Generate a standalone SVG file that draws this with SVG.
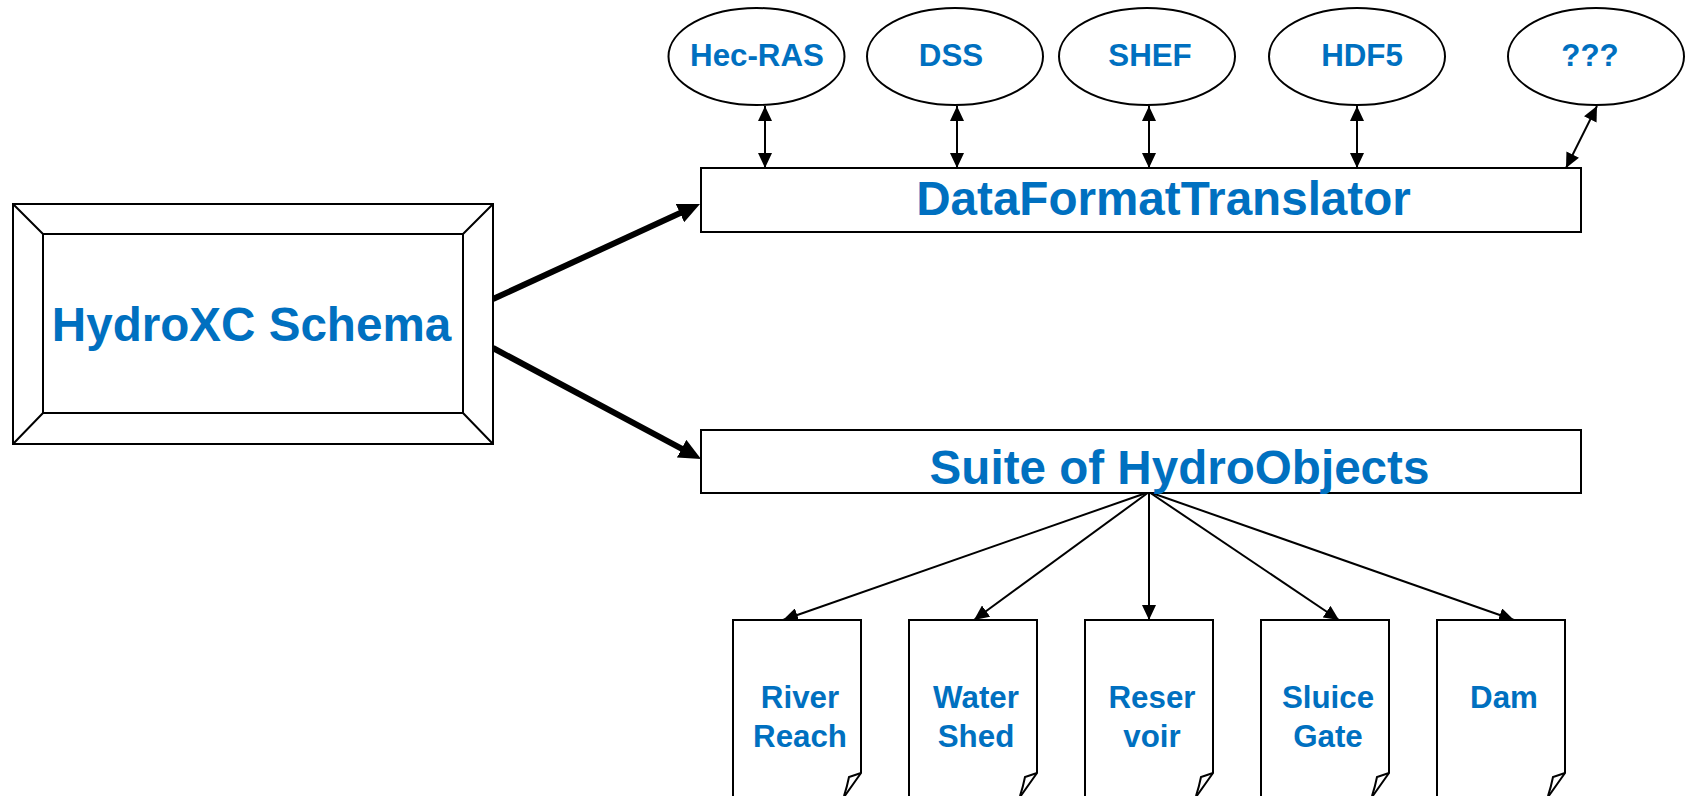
<svg xmlns="http://www.w3.org/2000/svg" width="1685" height="796" viewBox="0 0 1685 796">
<style>
.shape{fill:#fff;stroke:#000;stroke-width:2}
.edge{fill:none;stroke:#000;stroke-width:2}
.thick{fill:none;stroke:#000;stroke-width:6}
.lbl{font-family:"Liberation Sans",Arial,sans-serif;font-weight:bold;fill:#0070C0;text-anchor:middle}
.big{font-size:47.6px}
.sm{font-size:31.3px}
</style>
<defs>
<marker id="ah" markerUnits="userSpaceOnUse" viewBox="0 0 15 14" refX="15" refY="7" markerWidth="15" markerHeight="14" orient="auto-start-reverse">
<path d="M0,0 L15,7 L0,14 z" fill="#000"/>
</marker>
<marker id="ahBig" markerUnits="userSpaceOnUse" viewBox="0 0 22 20" refX="2" refY="10" markerWidth="22" markerHeight="20" orient="auto">
<path d="M0,0 L22,10 L0,20 z" fill="#000"/>
</marker>
</defs>
<rect width="1685" height="796" fill="#fff"/>

<g id="connectors">
<line class="thick" x1="493" y1="299" x2="681.8" y2="212.3" marker-end="url(#ahBig)"/>
<line class="thick" x1="493" y1="348" x2="683.4" y2="449.6" marker-end="url(#ahBig)"/>
<line class="edge" x1="765" y1="106" x2="765" y2="168" marker-start="url(#ah)" marker-end="url(#ah)"/>
<line class="edge" x1="957" y1="106" x2="957" y2="168" marker-start="url(#ah)" marker-end="url(#ah)"/>
<line class="edge" x1="1149" y1="106" x2="1149" y2="168" marker-start="url(#ah)" marker-end="url(#ah)"/>
<line class="edge" x1="1357" y1="106" x2="1357" y2="168" marker-start="url(#ah)" marker-end="url(#ah)"/>
<line class="edge" x1="1597" y1="106" x2="1566" y2="168" marker-start="url(#ah)" marker-end="url(#ah)"/>
<line class="edge" x1="1149" y1="492" x2="783" y2="620" marker-end="url(#ah)"/>
<line class="edge" x1="1149" y1="492" x2="974" y2="620" marker-end="url(#ah)"/>
<line class="edge" x1="1149" y1="492" x2="1149" y2="620" marker-end="url(#ah)"/>
<line class="edge" x1="1149" y1="492" x2="1339" y2="620" marker-end="url(#ah)"/>
<line class="edge" x1="1149" y1="492" x2="1514" y2="620" marker-end="url(#ah)"/>
</g>

<g id="hydroxc">
<rect class="shape" x="13" y="204" width="480" height="240"/>
<rect class="shape" x="43" y="234" width="420" height="179"/>
<path class="edge" d="M13,204 L43,234 M493,204 L463,234 M13,444 L43,413 M493,444 L463,413"/>
<text class="lbl big" x="251.5" y="341">HydroXC Schema</text>
</g>

<g id="translator">
<rect class="shape" x="701" y="168" width="880" height="64"/>
<text class="lbl big" x="1163.5" y="215">DataFormatTranslator</text>
</g>

<g id="suite">
<rect class="shape" x="701" y="430" width="880" height="63"/>
<text class="lbl big" x="1179.5" y="484">Suite of HydroObjects</text>
</g>

<g id="hecras"><ellipse class="shape" cx="756.5" cy="56.5" rx="88" ry="48.5"/><text class="lbl sm" x="757" y="66">Hec-RAS</text></g>
<g id="dss"><ellipse class="shape" cx="955" cy="56.5" rx="88" ry="48.5"/><text class="lbl sm" x="951" y="66">DSS</text></g>
<g id="shef"><ellipse class="shape" cx="1147" cy="56.5" rx="88" ry="48.5"/><text class="lbl sm" x="1150" y="66">SHEF</text></g>
<g id="hdf5"><ellipse class="shape" cx="1357" cy="56.5" rx="88" ry="48.5"/><text class="lbl sm" x="1362" y="66">HDF5</text></g>
<g id="unknown"><ellipse class="shape" cx="1596" cy="56.5" rx="88" ry="48.5"/><text class="lbl sm" x="1590" y="66">???</text></g>

<g id="river">
<path class="shape" d="M733,620 H861 V773 L844,797 H733 Z"/>
<path class="edge" d="M861,773 L849,777 Q847,787 844,796"/>
<text class="lbl sm" x="800" y="708">River</text>
<text class="lbl sm" x="800" y="747">Reach</text>
</g>
<g id="watershed">
<path class="shape" d="M909,620 H1037 V773 L1020,797 H909 Z"/>
<path class="edge" d="M1037,773 L1025,777 Q1023,787 1020,796"/>
<text class="lbl sm" x="976" y="708">Water</text>
<text class="lbl sm" x="976" y="747">Shed</text>
</g>
<g id="reservoir">
<path class="shape" d="M1085,620 H1213 V773 L1196,797 H1085 Z"/>
<path class="edge" d="M1213,773 L1201,777 Q1199,787 1196,796"/>
<text class="lbl sm" x="1152" y="708">Reser</text>
<text class="lbl sm" x="1152" y="747">voir</text>
</g>
<g id="sluicegate">
<path class="shape" d="M1261,620 H1389 V773 L1372,797 H1261 Z"/>
<path class="edge" d="M1389,773 L1377,777 Q1375,787 1372,796"/>
<text class="lbl sm" x="1328" y="708">Sluice</text>
<text class="lbl sm" x="1328" y="747">Gate</text>
</g>
<g id="dam">
<path class="shape" d="M1437,620 H1565 V773 L1548,797 H1437 Z"/>
<path class="edge" d="M1565,773 L1553,777 Q1551,787 1548,796"/>
<text class="lbl sm" x="1504" y="708">Dam</text>
</g>
</svg>
